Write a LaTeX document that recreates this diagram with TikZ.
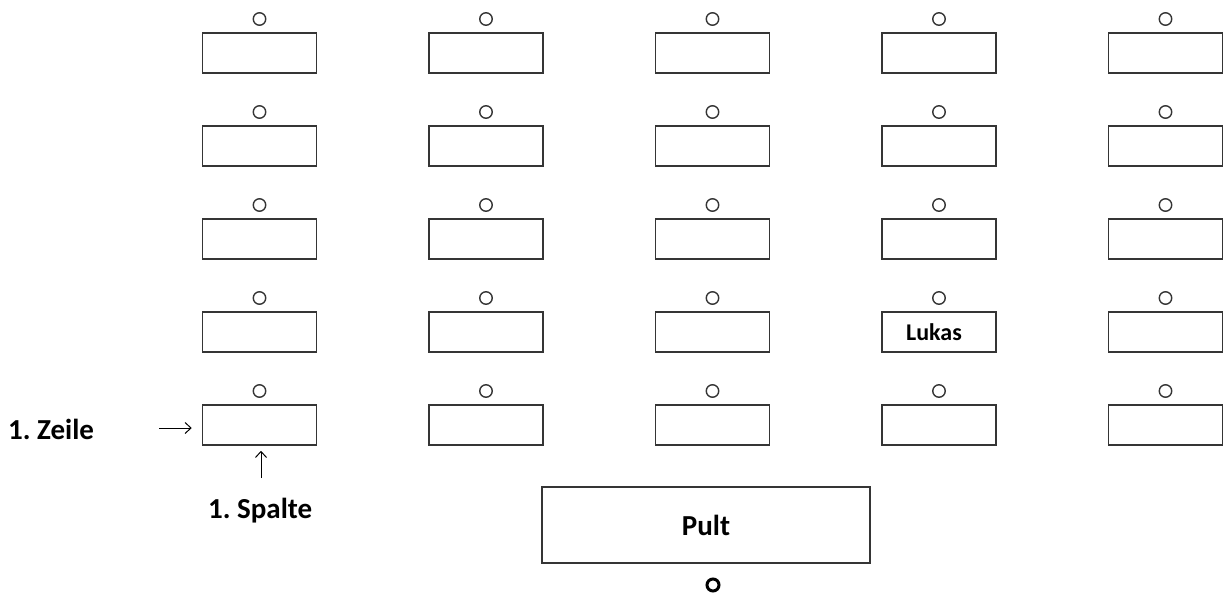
\documentclass[tikz,border=0pt]{standalone}
\usepackage{fontspec}
\setmainfont{Carlito}
\frenchspacing
\usetikzlibrary{arrows.meta}
\definecolor{edge}{HTML}{353535}
\tikzset{
  desk/.style={draw=edge, line width=1.5pt, rectangle, minimum width=114pt,
    minimum height=40pt, inner sep=0pt, fill=white},
  seat/.style={draw=edge, line width=1.4pt, circle, minimum size=12.5pt, inner sep=0pt},
  pultbox/.style={draw=edge, line width=1.8pt, rectangle, minimum width=328pt,
    minimum height=76pt, inner sep=0pt},
  pultseat/.style={draw=black, line width=3pt, circle, minimum size=12pt, inner sep=0pt},
  lbl/.style={font=\bfseries\fontsize{29}{34}\selectfont, inner sep=0pt},
  pointer/.style={line width=1pt, -{Straight Barb[length=6pt,width=11pt]}},
}
\begin{document}
\begin{tikzpicture}[x=1pt,y=-1pt]
  \useasboundingbox[fill=white] (0,0) rectangle (1224,595);

  % five rows of desks, each with a chair above it
  \foreach \r in {1,...,5}{
    \foreach \c in {1,...,5}{
      \pgfmathsetmacro{\dx}{259.5+226.5*(\c-1)}
      \pgfmathsetmacro{\dy}{53+93*(\r-1)}
      \node[desk] (d\r\c) at (\dx,\dy) {};
      \node[seat] (s\r\c) at (\dx,\dy-34) {};
    }
  }

  % named desk
  \node[font=\bfseries\fontsize{24}{28}\selectfont, inner sep=0pt] (lukas) at ([xshift=-5pt]d44.center) {Lukas};

  % teacher's desk
  \node[pultbox] (pult) at (706,525) {};
  \node[font=\bfseries\fontsize{29}{34}\selectfont, inner sep=0pt] (pulttext) at (pult.center) {Pult};
  \node[pultseat] (teacher) at (713,585) {};

  % row and column markers
  \node[lbl, anchor=base west] (zeile) at (8,439) {1. Zeile};
  \node[lbl, anchor=base west] (spalte) at (208,518) {1. Spalte};
  \coordinate (zeiletail) at (159,428);
  \coordinate (spaltetail) at (261,478);
  \draw[pointer, shorten >=10pt] (zeiletail) -- (zeiletail -| d51.west);
  \draw[pointer, shorten >=5pt] (spaltetail) -- (spaltetail |- d51.south);
\end{tikzpicture}
\end{document}
